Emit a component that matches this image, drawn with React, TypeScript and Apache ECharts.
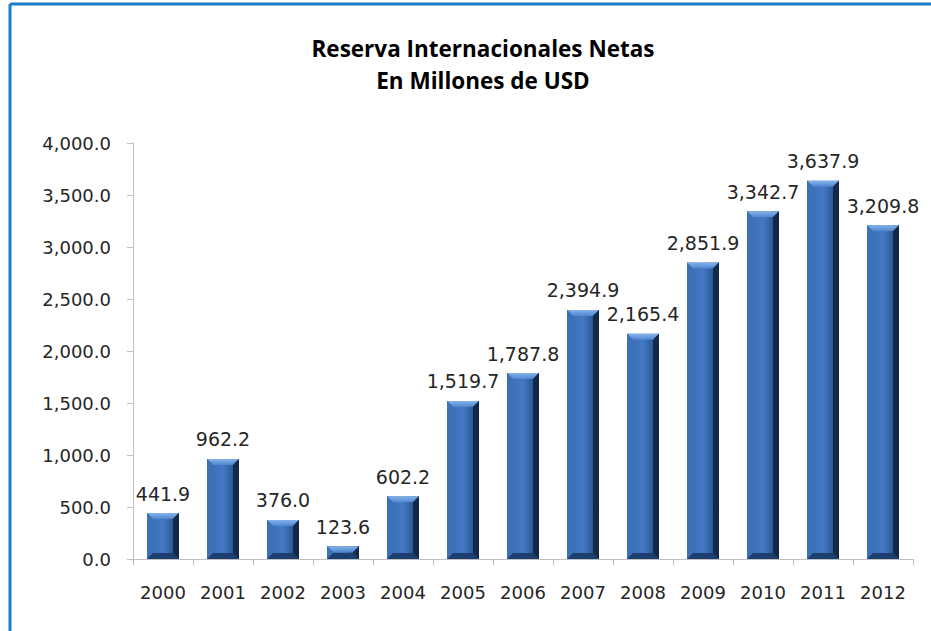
import React, { useEffect, useRef } from "react";
import * as echarts from "echarts";

const years = ["2000", "2001", "2002", "2003", "2004", "2005", "2006", "2007", "2008", "2009", "2010", "2011", "2012"];
const reserves = [441.9, 962.2, 376.0, 123.6, 602.2, 1519.7, 1787.8, 2394.9, 2165.4, 2851.9, 3342.7, 3637.9, 3209.8];
const titleLines = ["Reserva Internacionales Netas", "En Millones de USD"];

const fmt = (v: number) =>
  v.toLocaleString("en-US", { minimumFractionDigits: 1, maximumFractionDigits: 1 });

const FONT = "DejaVu Sans";

export default function App() {
  const ref = useRef<HTMLDivElement>(null);
  useEffect(() => {
    if (!ref.current) return;
    const chart = echarts.init(ref.current, null, { renderer: "svg" });
    const B = 6;
    chart.setOption({
      animation: false,
      backgroundColor: "#ffffff",
      title: {
        text: titleLines.join("\n"),
        left: 478,
        textAlign: "center",
        top: 27,
        textStyle: {
          fontFamily: "Open Sans",
          fontWeight: "bold",
          fontSize: 22.5,
          lineHeight: 32,
          color: "#000000",
        },
      },
      graphic: [
        { type: "line", shape: { x1: 10, y1: 4, x2: 931, y2: 4 }, style: { stroke: "#1a7dcc", lineWidth: 3 } },
        { type: "line", shape: { x1: 10, y1: 4, x2: 10, y2: 631 }, style: { stroke: "#1a7dcc", lineWidth: 3 } },
      ],
      grid: { left: 133, right: 18, top: 143, bottom: 72 },
      xAxis: {
        type: "category",
        data: years,
        axisLine: { lineStyle: { color: "#bfbfbf", width: 1 } },
        axisTick: { show: true, length: 6, alignWithLabel: false, lineStyle: { color: "#bfbfbf" } },
        axisLabel: { color: "#262626", fontFamily: FONT, fontSize: 18, margin: 24 },
      },
      yAxis: {
        type: "value",
        min: 0,
        max: 4000,
        interval: 500,
        axisLine: { show: true, lineStyle: { color: "#bfbfbf", width: 1 } },
        axisTick: { show: true, length: 6, lineStyle: { color: "#bfbfbf" } },
        splitLine: { show: false },
        axisLabel: {
          color: "#262626",
          fontFamily: FONT,
          fontSize: 18,
          margin: 22,
          formatter: (v: number) => fmt(v),
        },
      },
      series: [
        {
          type: "bar",
          data: reserves,
          barWidth: 32,
          itemStyle: {
            color: new echarts.graphic.LinearGradient(0, 0, 1, 0, [
              { offset: 0, color: "#2d5c9f" },
              { offset: 0.2, color: "#3b70bb" },
              { offset: 0.5, color: "#4479c4" },
              { offset: 0.8, color: "#2c5a98" },
              { offset: 1, color: "#0f2442" },
            ]),
          },
          label: {
            show: true,
            position: "top",
            distance: 10,
            color: "#262626",
            fontFamily: FONT,
            fontSize: 19,
            formatter: (p: any) => fmt(p.value),
          },
          z: 2,
        },
        {
          type: "custom",
          data: reserves,
          z: 3,
          silent: true,
          renderItem: (params: any, api: any) => {
            const top = api.coord([api.value(0), api.value(1)]);
            const base = api.coord([api.value(0), 0]);
            const w = 32;
            const x0 = top[0] - w / 2;
            const x1 = top[0] + w / 2;
            const y0 = top[1];
            const y1 = base[1];
            const b = Math.min(B, (y1 - y0) / 2);
            return {
              type: "group",
              children: [
                {
                  type: "polygon",
                  shape: { points: [[x0, y0], [x1, y0], [x1 - b, y0 + b], [x0 + b, y0 + b]] },
                  style: {
                    fill: new echarts.graphic.LinearGradient(0, 0, 0, 1, [
                      { offset: 0, color: "#86b3ea" },
                      { offset: 1, color: "#4f86d0" },
                    ]),
                  },
                },
                {
                  type: "polygon",
                  shape: { points: [[x0, y0], [x0 + b, y0 + b], [x0 + b, y1 - b], [x0, y1]] },
                  style: { fill: "#3e70b4" },
                },
                {
                  type: "polygon",
                  shape: { points: [[x1, y0], [x1, y1], [x1 - b, y1 - b], [x1 - b, y0 + b]] },
                  style: { fill: "#12294a" },
                },
                {
                  type: "polygon",
                  shape: { points: [[x0, y1], [x0 + b, y1 - b], [x1 - b, y1 - b], [x1, y1]] },
                  style: { fill: "#1d3f70" },
                },
              ],
            };
          },
        },
      ],
    });
    return () => chart.dispose();
  }, []);
  return (
    <div
      ref={ref}
      style={{ position: "fixed", left: 0, top: 0, width: 931, height: 631, background: "#fff" }}
    />
  );
}
